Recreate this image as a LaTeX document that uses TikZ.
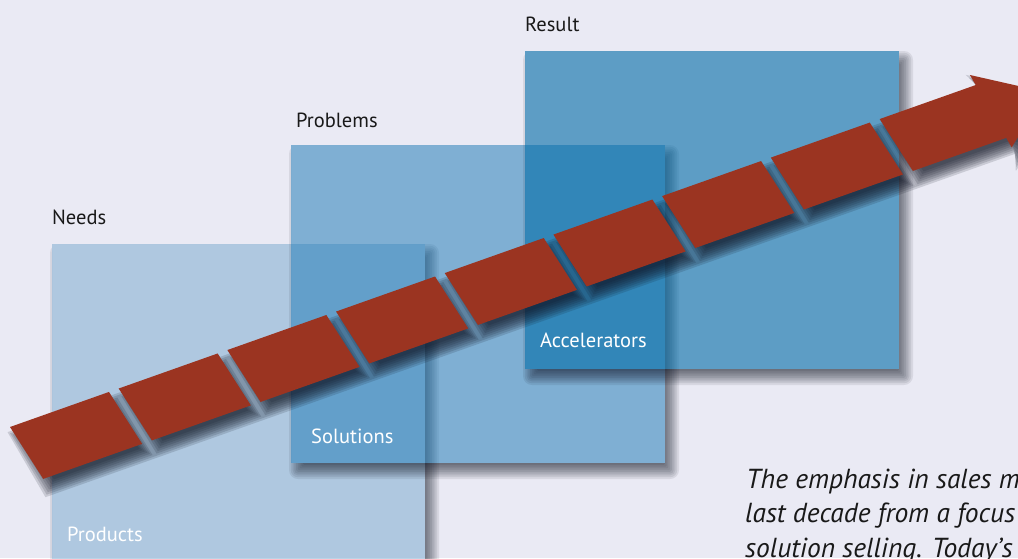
\documentclass[tikz,border=0pt]{standalone}
\usepackage{fontspec}
\setmainfont{PT Sans}
\definecolor{bgc}{RGB}{234,234,244}
\definecolor{needsc}{RGB}{118,168,206}
\definecolor{probc}{RGB}{30,122,182}
\definecolor{resc}{RGB}{0,107,167}
\definecolor{arrowc}{RGB}{155,52,33}
\definecolor{labc}{RGB}{25,25,25}
\definecolor{shc}{RGB}{15,20,35}
\newcommand{\mysqshadow}[4]{%
  \begin{scope}
    \clip (-60,-60) -- (1100,-60) -- (1100,650) -- (-60,650) -- cycle
          (#1,#2) -- (#1,#4) -- (#3,#4) -- (#3,#2) -- cycle;
    \foreach \i in {0,...,9}{%
      \pgfmathsetmacro\e{8-16*\i/9}%
      \pgfmathsetmacro\rc{max(\e,0)+1}%
      \fill[shc, opacity=0.085, rounded corners=\rc pt]
        ({#1+6-\e},{#2+8-\e}) rectangle ({#3+6+\e},{#4+8+\e});
    }
  \end{scope}
}
\begin{document}
\begin{tikzpicture}[x=1pt,y=-1pt,
  lab/.style={anchor=base west, inner sep=0pt, font=\fontsize{20.5}{24}\selectfont, text=labc},
  wlab/.style={lab, text=white},
  sq/.style={anchor=north west, inner sep=0pt, minimum width=373pt, minimum height=318pt, draw=none},
  note/.style={anchor=base west, inner sep=0pt, font=\fontsize{27.5}{34}\selectfont\itshape, text=labc}]
\useasboundingbox (0,0) rectangle (1018,558);
\clip (0,0) rectangle (1018,558);
\fill[bgc] (0,0) rectangle (1018,558);

% squares with shadows
\mysqshadow{52}{244}{425}{562}
\node[sq, fill=needsc, fill opacity=0.5] (needs) at (52,244) {};
\mysqshadow{291}{145}{665}{463}
\node[sq, fill=probc, fill opacity=0.52, minimum width=374pt] (problems) at (291,145) {};
\mysqshadow{525}{51}{899}{369}
\node[sq, fill=resc, fill opacity=0.6, minimum width=374pt] (result) at (525,51) {};

% labels
\node[lab] (lneeds) at (52,224.3) {Needs};
\node[lab] (lproblems) at (296,127) {Problems};
\node[lab] (lresult) at (525,31.7) {Result};
\node[wlab] (lproducts) at (67,541.7) {Products};
\node[wlab] (lsolutions) at (311,443) {Solutions};
\node[wlab] (laccel) at (540,347.7) {Accelerators};

% arrow
\begin{scope}[shift={(10,427)}, rotate=19.5]
  \foreach \j in {0,...,7}{%
    \pgfmathsetmacro\e{7-14*\j/7}%
    \fill[shc, opacity=0.15]
      foreach \i in {0,...,7}{
        ({115.3*\i-\e+3},{-\e+11}) -- ({115.3*\i+105+\e+3},{-\e+11}) --
        ({115.3*\i+119+\e+3},{60+\e+11}) -- ({115.3*\i+14-\e+3},{60+\e+11}) -- cycle }
      ({922.6-\e+3},{-\e+11}) -- ({1024.5+3},{-\e+11}) -- ({1022.4-\e+3},{-11.4-1.8*\e+11}) --
      ({1088+2*\e+3},{30+11}) -- ({1037.6-\e+3},{70.8+1.8*\e+11}) -- ({1035.6+3},{60+\e+11}) --
      ({936.6-\e+3},{60+\e+11}) -- cycle;
  }
  \fill[arrowc]
    foreach \i in {0,...,7}{
      ({115.3*\i},0) -- ({115.3*\i+105},0) -- ({115.3*\i+119},60) -- ({115.3*\i+14},60) -- cycle }
    (922.6,0) -- (1024.5,0) -- (1022.4,-11.4) -- (1088,30) -- (1037.6,70.8) -- (1035.6,60) -- (936.6,60) -- cycle;
\end{scope}

% note text
\node[note] (note1) at (746,488) {The emphasis in sales m};
\node[note] (note2) at (745,522.7) {last decade from a focus};
\node[note] (note3) at (745,557.5) {solution selling. Today’s};
\end{tikzpicture}
\end{document}
